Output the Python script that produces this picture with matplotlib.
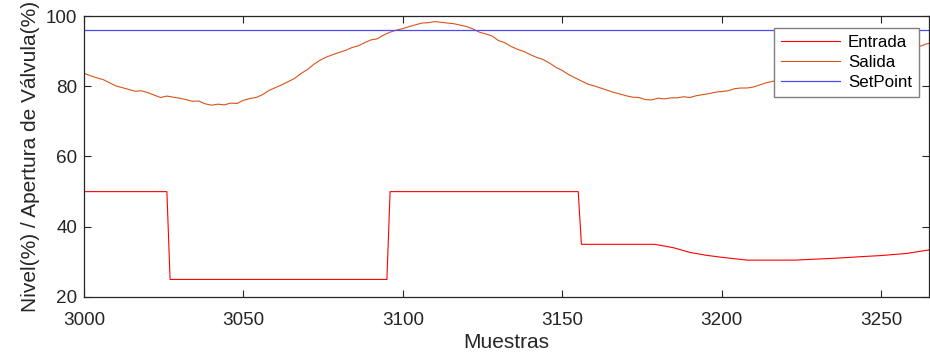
import numpy as np
import matplotlib
matplotlib.use('Agg')
import matplotlib.pyplot as plt

# Salida (Nivel %) - Read Every 2 Samples
salida_x = list(range(3000, 3266, 2)) + [3265]
salida_y = [
    83.7, 83.0, 82.4, 81.9, 81.0, 80.1, 79.6, 79.1, 78.6, 78.7,
    78.2, 77.5, 76.8, 77.2, 76.9, 76.6, 76.2, 75.7, 75.8, 75.0,
    74.6, 74.9, 74.7, 75.2, 75.1, 76.0, 76.5, 76.8, 77.6, 78.8,
    79.6, 80.4, 81.3, 82.2, 83.6, 84.7, 86.2, 87.4, 88.3, 89.0,
    89.6, 90.2, 91.0, 91.5, 92.4, 93.2, 93.5, 94.6, 95.4, 96.0,
    96.4, 97.0, 97.5, 98.0, 98.1, 98.4, 98.2, 98.0, 97.8, 97.4,
    97.0, 96.3, 95.4, 94.9, 94.3, 93.0, 92.4, 91.3, 90.5, 89.9,
    89.0, 88.2, 87.6, 86.6, 85.4, 84.5, 83.3, 82.4, 81.5, 80.6,
    80.1, 79.5, 78.9, 78.3, 77.8, 77.3, 76.9, 76.8, 76.2, 76.1,
    76.6, 76.4, 76.7, 76.7, 77.0, 76.8, 77.3, 77.6, 77.9, 78.3,
    78.5, 78.7, 79.3, 79.5, 79.5, 79.8, 80.4, 81.0, 81.4, 82.0,
    82.6, 83.3, 84.0, 84.8, 85.5, 86.2, 86.9, 87.6, 88.2, 88.8,
    89.3, 89.8, 90.2, 90.5, 90.8, 91.0, 91.1, 91.2, 91.2, 91.3,
    91.2, 91.3, 92.0, 92.2,
]

# Entrada (Apertura de Valvula %) - Breakpoints
entrada_x = [3000, 3026, 3027, 3095, 3096, 3155, 3156, 3179, 3185, 3190,
             3195, 3200, 3205, 3208, 3215, 3223, 3230, 3237, 3244, 3250,
             3258, 3265]
entrada_y = [50, 50, 25, 25, 50, 50, 35, 35, 34.0, 32.7,
             31.9, 31.3, 30.8, 30.5, 30.5, 30.5, 30.8, 31.1, 31.5, 31.8,
             32.4, 33.4]

# SetPoint
setpoint_x = [3000, 3265]
setpoint_y = [96, 96]

plt.rcParams['font.family'] = ['Liberation Sans', 'DejaVu Sans']
dark = '#262626'

fig = plt.figure(figsize = (9.3, 3.58), dpi = 100)
ax = fig.add_axes([0.0903, 0.1704, 0.9086, 0.7849])

ax.plot(entrada_x, entrada_y, color = '#ff0000', lw = 0.8, label = 'Entrada')
ax.plot(salida_x, salida_y, color = '#d95319', lw = 0.8, label = 'Salida')
ax.plot(setpoint_x, setpoint_y, color = '#4a4aff', lw = 0.9, label = 'SetPoint')

ax.set_xlim(3000, 3265)
ax.set_ylim(20, 100)
ax.set_xticks(np.arange(3000, 3251, 50))
ax.set_yticks(np.arange(20, 101, 20))

# MATLAB Style Box With Inward Ticks
ax.tick_params(axis = 'both', direction = 'in', length = 5, width = 0.8,
               top = True, right = True, labelsize = 13.6, colors = dark, pad = 5)
ax.tick_params(axis = 'x', pad = 11) # Push x Labels Down, Clear of "20"
for spine in ax.spines.values():
    spine.set_color(dark)
    spine.set_linewidth(0.9)

ax.set_xlabel('Muestras', fontsize = 15, color = dark, labelpad = 3)
ax.set_ylabel('Nivel(%) / Apertura de Válvula(%)', fontsize = 15, color = dark, labelpad = 4)

leg = ax.legend(
    loc = 'upper right',
    bbox_to_anchor = (0.988, 0.957),
    borderaxespad = 0, fontsize = 12.2,
    handlelength = 3.5, handletextpad = 0.45, labelspacing = 0.3,
    fancybox = False, framealpha = 1,
)
leg.get_frame().set_edgecolor('#808080')
leg.get_frame().set_linewidth(1.0)

fig.savefig('out.png', dpi = 100)
